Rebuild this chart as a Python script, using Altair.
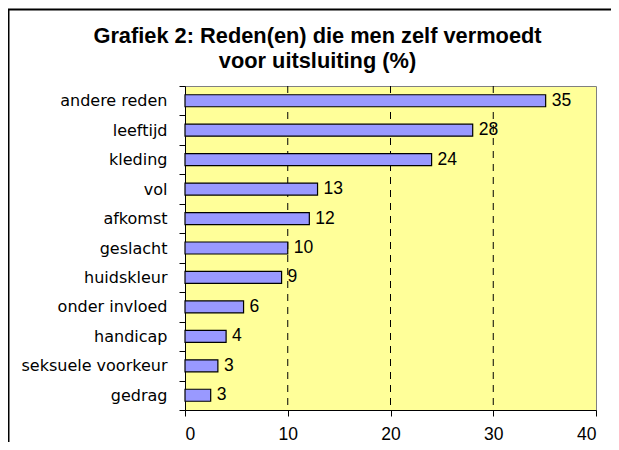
import altair as alt
import pandas as pd

categories = ["andere reden ", "leeftijd", "kleding", "vol", "afkomst", "geslacht",
              "huidskleur", "onder invloed", "handicap", "seksuele voorkeur", "gedrag"]
values = [35.1, 28.0, 24.0, 12.9, 12.1, 10.0, 9.4, 5.7, 4.0, 3.2, 2.5]
labels = ["35", "28", "24", "13", "12", "10", "9", "6", "4", "3", "3"]
x_ticks = [0, 10, 20, 30, 40]
gridlines = [10, 20, 30]
title_lines = ["Grafiek 2: Reden(en) die men zelf vermoedt", "voor uitsluiting (%)"]

W, H = 411, 324
TOP, RIGHT, BOTTOM = 78, 15, 32

df = pd.DataFrame({"reden": categories, "pct": values, "label": labels})
grid_df = pd.DataFrame({"g": gridlines})

x_scale = alt.Scale(domain=[0, 40], nice=False)
y_scale = alt.Scale(paddingInner=0, paddingOuter=0)

x_enc = alt.X(
    "pct:Q", scale=x_scale, title=None,
    axis=alt.Axis(values=x_ticks, grid=False, labelFont="Liberation Sans",
                  labelFontSize=17.5, labelColor="black", tickSize=6,
                  labelPadding=9, domainColor="black", tickColor="black",
                  domainWidth=1, tickWidth=1),
)
y_enc = alt.Y(
    "reden:N", sort=categories, scale=y_scale, title=None,
    axis=alt.Axis(tickBand="extent", labelFont="DejaVu Sans", labelFontSize=16,
                  labelColor="black", tickSize=6, labelPadding=12,
                  domainColor="black", tickColor="black", domainWidth=1,
                  tickWidth=1, grid=False),
)

grid = alt.Chart(grid_df).mark_rule(color="black", strokeWidth=1, strokeDash=[7, 6]).encode(
    x=alt.X("g:Q", scale=x_scale)
)

bars = alt.Chart(df).mark_bar(size=12, color="#9999FF", stroke="black", strokeWidth=1.2).encode(
    x=x_enc, y=y_enc
)

text = alt.Chart(df).mark_text(align="left", baseline="middle", dx=6,
                               font="Liberation Sans", fontSize=17.5, color="black").encode(
    x=alt.X("pct:Q", scale=x_scale), y=alt.Y("reden:N", sort=categories, scale=y_scale),
    text="label:N"
)

title = alt.Chart(alt.Data(values=[{}])).mark_text(
    align="center", baseline="alphabetic", font="Liberation Sans", fontSize=21.8,
    fontWeight="bold", color="black", lineHeight=25.5
).encode(x=alt.value(132.5), y=alt.value(42.5 - 8 - TOP), text=alt.value(title_lines))

frame_v = alt.Chart(alt.Data(values=[{}])).mark_rule(color="black", strokeWidth=2).encode(
    x=alt.value(-176.5), y=alt.value(1.5 - TOP), y2=alt.value(H + BOTTOM)
)
frame_h = alt.Chart(alt.Data(values=[{}])).mark_rule(color="black", strokeWidth=2).encode(
    x=alt.value(-177.5), x2=alt.value(W + RIGHT), y=alt.value(1.5 - TOP)
)

chart = alt.layer(grid, bars, text, title, frame_v, frame_h).properties(
    width=W, height=H,
    autosize=alt.AutoSizeParams(type="none"),
    padding={"left": 177, "top": TOP, "right": RIGHT, "bottom": BOTTOM},
).configure_view(
    stroke="#808080", fill="#FFFF99", strokeWidth=1
)

chart.save("out.html", embed_options={"renderer": "svg", "actions": False})
